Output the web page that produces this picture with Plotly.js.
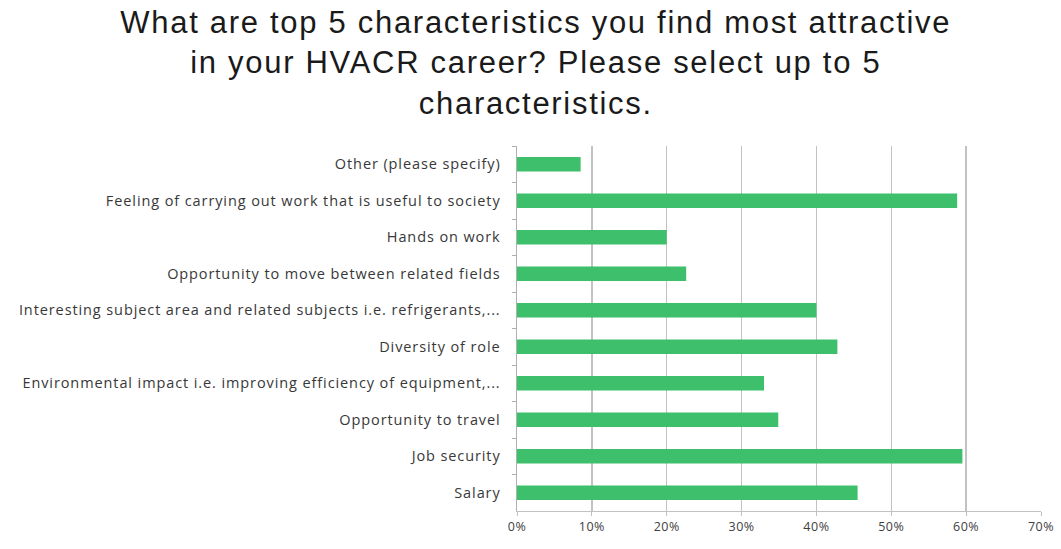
<!DOCTYPE html>
<html>
<head>
<meta charset="utf-8">
<script src="https://cdn.plot.ly/plotly-3.0.1.min.js"></script>
<style>
html,body{margin:0;padding:0;background:#fff;}
#chart{width:1061px;height:549px;}
#chart .gtitle{letter-spacing:1.7px;}
#chart .ytick text{letter-spacing:0.9px;}
#chart .xtick text{letter-spacing:0.5px;}
</style>
</head>
<body>
<div id="chart"></div>
<script>
// Categories listed top to bottom as shown in the chart
const categories = [
  "Other (please specify)",
  "Feeling of carrying out work that is useful to society",
  "Hands on work",
  "Opportunity to move between related fields",
  "Interesting subject area and related subjects i.e. refrigerants,...",
  "Diversity of role",
  "Environmental impact i.e. improving efficiency of equipment,...",
  "Opportunity to travel",
  "Job security",
  "Salary"
];
const percentages = [8.5, 58.8, 20.0, 22.6, 40.0, 42.8, 33.0, 34.9, 59.5, 45.5];
const xTickValues = [0, 10, 20, 30, 40, 50, 60, 70];
const xTickLabels = ["0%", "10%", "20%", "30%", "40%", "50%", "60%", "70%"];
const chartTitle = "What are top 5 characteristics you find most attractive<br>in your HVACR career? Please select up to 5<br>characteristics.";

const trace = {
  type: "bar",
  orientation: "h",
  x: percentages,
  y: categories,
  marker: {color: "#3dbf6c"},
  hoverinfo: "x+y"
};

const layout = {
  width: 1061,
  height: 549,
  margin: {l: 517, r: 20, t: 146, b: 38, pad: 0},
  paper_bgcolor: "#ffffff",
  plot_bgcolor: "#ffffff",
  bargap: 0.6,
  showlegend: false,
  title: {
    text: chartTitle,
    font: {family: "Liberation Sans, Arial, sans-serif", size: 31, color: "#1a1a1a"},
    x: 0.505, xref: "container", xanchor: "center",
    y: 0.94, yref: "container", yanchor: "top"
  },
  xaxis: {
    range: [0, 70],
    tickvals: xTickValues,
    ticktext: xTickLabels,
    showgrid: true,
    gridcolor: "#c2c2c2",
    gridwidth: 1.5,
    zeroline: false,
    showline: true,
    linecolor: "#c2c2c2",
    linewidth: 1,
    ticks: "outside",
    ticklen: 4,
    tickcolor: "#c2c2c2",
    tickfont: {family: "Open Sans, sans-serif", size: 12.5, color: "#404040"},
    fixedrange: true
  },
  yaxis: {
    type: "category",
    autorange: "reversed",
    showline: true,
    linecolor: "#b0b0b0",
    linewidth: 1.5,
    ticks: "outside",
    tickson: "boundaries",
    ticklen: 4,
    tickcolor: "#b0b0b0",
    showgrid: false,
    tickfont: {family: "Open Sans, sans-serif", size: 14.5, color: "#383838"},
    ticklabelstandoff: 12,
    fixedrange: true
  }
};

Plotly.newPlot("chart", [trace], layout, {displayModeBar: false, staticPlot: true});
</script>
</body>
</html>
